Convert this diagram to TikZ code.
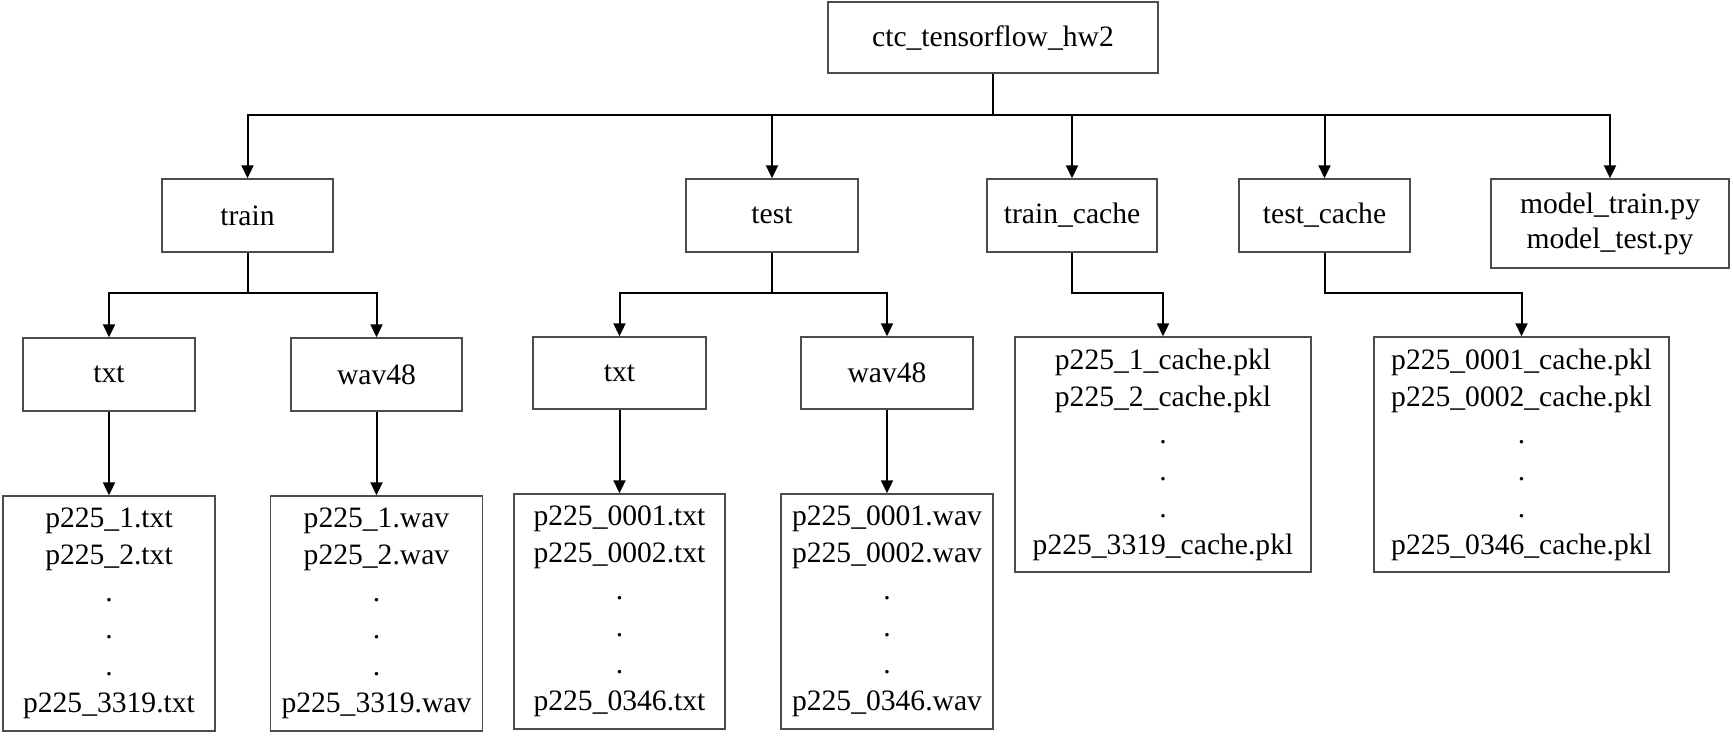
\documentclass[tikz,border=0pt]{standalone}
\usepackage{fontspec}
\setmainfont{Liberation Serif}
\usetikzlibrary{arrows.meta}
\tikzset{
  box/.style={draw=black!70, line width=0.7pt, fill=white, inner sep=0pt, align=center,
    font=\fontsize{14.8pt}{18.5pt}\selectfont, anchor=center},
  arr/.style={draw=black, line width=1pt, -{Triangle[length=6.5pt,width=6pt]}},
  ln/.style={draw=black, line width=1pt}
}
\begin{document}
\begin{tikzpicture}[x=0.5pt,y=-0.5pt]
\useasboundingbox (0,0) rectangle (1733,735);
% level 1
\node[box, minimum width=165pt, minimum height=35.5pt] (top) at (993,37.5) {ctc\_tensorflow\_hw2};
% level 2
\node[box, minimum width=85.5pt, minimum height=36.5pt] (train) at (247.5,215.5) {train};
\node[box, minimum width=86pt, minimum height=36.5pt] (test) at (772,215.5) {test};
\node[box, minimum width=85pt, minimum height=36.5pt] (trc) at (1072,215.5) {train\_cache};
\node[box, minimum width=85.5pt, minimum height=36.5pt] (tec) at (1324.5,215.5) {test\_cache};
\node[box, minimum width=119pt, minimum height=44.5pt, font=\fontsize{14.8pt}{17.5pt}\selectfont] (model) at (1610,223.5) {model\_train.py\\model\_test.py};
% level 3
\node[box, minimum width=86pt, minimum height=36.5pt] (txa) at (109,374.5) {txt};
\node[box, minimum width=85.5pt, minimum height=36.5pt] (wva) at (376.5,374.5) {wav48};
\node[box, minimum width=86.5pt, minimum height=36pt] (txb) at (619.5,373) {txt};
\node[box, minimum width=86pt, minimum height=36pt] (wvb) at (887,373) {wav48};
\node[box, minimum width=148pt, minimum height=117.5pt] (trcf) at (1163,454.5)
  {p225\_1\_cache.pkl\\p225\_2\_cache.pkl\\.\\.\\.\\p225\_3319\_cache.pkl};
\node[box, minimum width=147.5pt, minimum height=117.5pt] (tecf) at (1521.5,454.5)
  {p225\_0001\_cache.pkl\\p225\_0002\_cache.pkl\\.\\.\\.\\p225\_0346\_cache.pkl};
% level 4
\node[box, minimum width=106pt, minimum height=117.5pt] (txaf) at (109,613.5)
  {p225\_1.txt\\p225\_2.txt\\.\\.\\.\\p225\_3319.txt};
\node[box, minimum width=106pt, minimum height=117.5pt] (wvaf) at (376.5,613.5)
  {p225\_1.wav\\p225\_2.wav\\.\\.\\.\\p225\_3319.wav};
\node[box, minimum width=105.5pt, minimum height=117.5pt] (txbf) at (619.5,611.5)
  {p225\_0001.txt\\p225\_0002.txt\\.\\.\\.\\p225\_0346.txt};
\node[box, minimum width=106pt, minimum height=117.5pt] (wvbf) at (887,611.5)
  {p225\_0001.wav\\p225\_0002.wav\\.\\.\\.\\p225\_0346.wav};
% bus coordinates
\coordinate (b0) at (993,115);
\coordinate (b1) at (247.5,293);
\coordinate (b2) at (772,293);
\coordinate (b3) at (1072,293);
\coordinate (b4) at (1324.5,293);
% connectors
\draw[ln] (top.south) -- (b0);
\foreach \c in {train,test,trc,tec,model}{
  \draw[arr] (b0) -| (\c.north);
}
\draw[ln] (train.south) -- (b1);
\draw[arr] (b1) -| (txa.north);
\draw[arr] (b1) -| (wva.north);
\draw[ln] (test.south) -- (b2);
\draw[arr] (b2) -| (txb.north);
\draw[arr] (b2) -| (wvb.north);
\draw[arr] (trc.south) -- (b3) -| (trcf.north);
\draw[arr] (tec.south) -- (b4) -| (tecf.north);
\draw[arr] (txa.south) -- (txaf.north);
\draw[arr] (wva.south) -- (wvaf.north);
\draw[arr] (txb.south) -- (txbf.north);
\draw[arr] (wvb.south) -- (wvbf.north);
\end{tikzpicture}
\end{document}
